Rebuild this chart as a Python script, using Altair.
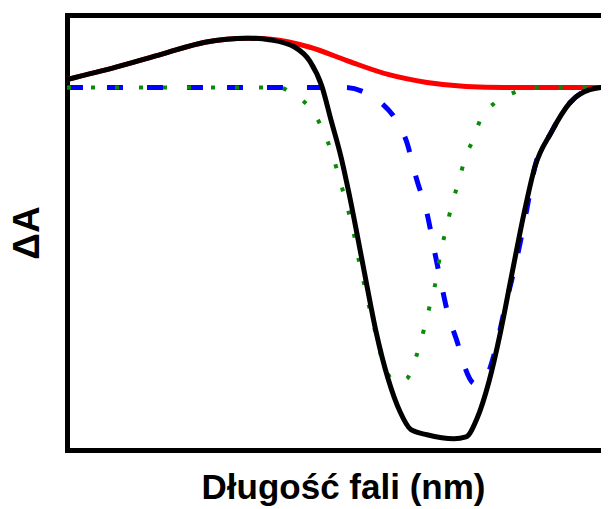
import altair as alt
import pandas as pd

# Values (x: wavelength-like units, y: ΔA arbitrary units)
black_x = [400, 427.1, 452.6, 476.4, 500.2, 512.9, 526.2, 534.5, 541.1, 546.1, 551.7, 556.1,
           560.5, 565.5, 571.0, 577.7, 584.3, 590.4, 599.3, 614.2, 620.9, 626.9, 633.6, 639.7,
           646.3, 653.0, 659.0, 667.9, 678.4, 689.5, 700.0]
black_y = [0.022, 0.056, 0.092, 0.125, 0.136, 0.131, 0.111, 0.072, 0.003, -0.089, -0.192, -0.292,
           -0.403, -0.533, -0.672, -0.803, -0.894, -0.944, -0.958, -0.969, -0.964, -0.914, -0.811, -0.681,
           -0.514, -0.347, -0.219, -0.125, -0.042, -0.006, 0.002]

red_x = [400, 427.1, 452.6, 476.4, 500.2, 512.9, 534.5, 556.1, 577.7, 599.3, 620.9, 642.4, 700]
red_y = [0.022, 0.056, 0.092, 0.125, 0.136, 0.133, 0.111, 0.072, 0.036, 0.014, 0.003, 0.0, 0.0]

blue_x = [400, 553.9, 563.8, 573.2, 584.3, 587.6, 593.7, 599.3, 603.7, 606.5, 610.9, 616.4,
          618.6, 625.8, 631.4, 636.9, 642.4, 649.6, 654.1, 659.0, 667.9, 678.4, 689.5, 700]
blue_y = [0, 0, -0.011, -0.039, -0.108, -0.144, -0.256, -0.347, -0.458, -0.525, -0.625, -0.708,
          -0.747, -0.817, -0.803, -0.728, -0.608, -0.458, -0.347, -0.219, -0.125, -0.042, -0.006, 0]

green_x = [400, 517.9, 524.9, 533.9, 540.6, 546.4, 551.7, 555.5, 558.9, 561.6, 564.7, 567.7,
           571.0, 574.4, 582.7, 588.2, 593.7, 597.6, 600.9, 604.2, 606.7, 609.8, 613.1, 617.0,
           620.9, 624.0, 629.1, 636.9, 647.4, 656.3, 700]
green_y = [0, 0, -0.019, -0.053, -0.106, -0.178, -0.267, -0.336, -0.406, -0.478, -0.547, -0.614,
           -0.681, -0.75, -0.814, -0.803, -0.736, -0.667, -0.6, -0.533, -0.458, -0.392, -0.322, -0.256,
           -0.186, -0.153, -0.086, -0.042, -0.014, 0, 0]

x_title = "Długość fali (nm)"
y_title = "ΔA"

FONT = "Liberation Sans"

xscale = alt.Scale(domain=[400, 695.6], nice=False, zero=False)
yscale = alt.Scale(domain=[-1.0, 0.2], nice=False, zero=False)

yaxis = alt.Axis(title=y_title, labels=False, ticks=False, grid=False,
                 domainColor="black", domainWidth=5, domainCap="square",
                 titleFont=FONT, titleFontSize=37, titleFontWeight="bold",
                 titleColor="black", titlePadding=21)
x_bottom = alt.Axis(title=x_title, orient="bottom", labels=False, ticks=False, grid=False,
                    domainColor="black", domainWidth=5, domainCap="square",
                    titleFont=FONT, titleFontSize=35, titleFontWeight="bold",
                    titleColor="black", titlePadding=20, titleX=276)
x_top = alt.Axis(title=None, orient="top", labels=False, ticks=False, grid=False,
                 domainColor="black", domainWidth=5, domainCap="square")


def line(xs, ys, xaxis, **mk):
    df = pd.DataFrame({"x": xs, "y": ys})
    enc_x = alt.X("x:Q", scale=xscale, axis=xaxis) if xaxis is not None else alt.X("x:Q", scale=xscale, axis=None)
    return alt.Chart(df).mark_line(interpolate="monotone", clip=True, **mk).encode(
        x=enc_x,
        y=alt.Y("y:Q", scale=yscale, axis=yaxis),
    )


red = line(red_x, red_y, x_top, color="#ff0000", strokeWidth=5)
blue = line(blue_x, blue_y, None, color="#0000ff", strokeWidth=5, strokeDash=[16, 24], strokeCap="butt")
green = line(green_x, green_y, None, color="#0a8a0a", strokeWidth=4, strokeDash=[4, 20], strokeCap="butt")
black = line(black_x, black_y, x_bottom, color="#000000", strokeWidth=5)

chart = alt.layer(red, blue, green, black).resolve_axis(x="independent").properties(
    width=534,
    height=435,
    autosize=alt.AutoSizeParams(type="none"),
    padding={"left": 59, "top": 7, "right": 0, "bottom": 59},
    background="white",
).configure_view(strokeWidth=0)

chart.save("out.html", embed_options={"renderer": "svg", "actions": False})
